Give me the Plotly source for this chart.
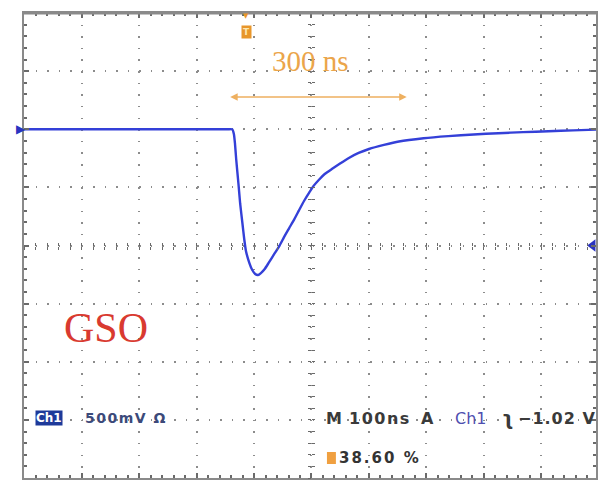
import plotly.graph_objects as go

# ---- data (time in ns, amplitude in V; 100 ns/div, 500 mV/div) ----
time_ns = [0, 60, 120, 180, 240, 300, 340, 355, 362, 365, 367, 369, 373, 376,
           380, 383, 386, 392, 397, 402, 407, 412, 419, 426, 435, 444, 452,
           461, 470, 478, 487, 496, 504, 513, 523, 536, 549, 565, 582, 600,
           626, 652, 695, 738, 782, 825, 868, 912, 955, 995]
volts = [1.0, 1.0, 1.0, 1.0, 1.0, 1.0, 1.0, 1.0, 1.0, 0.96, 0.873, 0.744,
         0.529, 0.357, 0.185, 0.056, -0.047, -0.151, -0.211, -0.245, -0.254,
         -0.237, -0.20, -0.145, -0.075, -0.005, 0.07, 0.148, 0.225, 0.30,
         0.383, 0.455, 0.515, 0.566, 0.615, 0.660, 0.703, 0.753, 0.796, 0.830,
         0.865, 0.895, 0.923, 0.941, 0.955, 0.966, 0.975, 0.983, 0.99, 0.997]

trigger_marker_level = [0.0]
trigger_marker_time = [989]

T_RANGE = [0, 994.8]
V_RANGE = [-2, 2]
W, H = 598, 481
L, R, T, B = 24, 0, 13, 3
PW, PH = W - L - R, H - T - B


def px(x):
    return (x - L) / PW


def py(y):
    return (H - B - y) / PH


trace_blue = "#3440d8"
grid_col = "#8c8c8c"
tick_col = "#6a6a6a"
orange = "#eba54a"

fig = go.Figure()
fig.add_trace(go.Scatter(x=time_ns, y=volts, mode="lines",
                         line=dict(color=trace_blue, width=2.4, shape="spline", smoothing=0.5),
                         hoverinfo="skip", showlegend=False))
fig.add_trace(go.Scatter(x=trigger_marker_time, y=trigger_marker_level, mode="markers",
                         marker=dict(symbol="triangle-left", size=11, color="#2a34c0"),
                         cliponaxis=False, showlegend=False, hoverinfo="skip"))
# empty traces so the centre graticule axes are attached to subplots
fig.add_trace(go.Scatter(x=[], y=[], xaxis="x2", yaxis="y", showlegend=False))
fig.add_trace(go.Scatter(x=[], y=[], xaxis="x3", yaxis="y", showlegend=False))
fig.add_trace(go.Scatter(x=[], y=[], xaxis="x", yaxis="y2", showlegend=False))
fig.add_trace(go.Scatter(x=[], y=[], xaxis="x", yaxis="y3", showlegend=False))

common = dict(showticklabels=False, zeroline=False, fixedrange=True)

fig.update_layout(
    width=W, height=H,
    margin=dict(l=L, r=R, t=T, b=B),
    paper_bgcolor="white", plot_bgcolor="white",
    showlegend=False,
    xaxis=dict(range=T_RANGE, tick0=0, dtick=100, showgrid=True,
               gridcolor=grid_col, gridwidth=2, griddash="1.5px,10.12px",
               showline=True, linecolor="#8a8a8a", linewidth=2, mirror="ticks",
               ticks="inside", ticklen=5, tickcolor=tick_col, tickwidth=1.5,
               minor=dict(dtick=20, ticks="inside", ticklen=3, tickcolor=tick_col,
                          showgrid=False),
               **common),
    yaxis=dict(range=V_RANGE, tick0=0, dtick=0.5, showgrid=True,
               gridcolor=grid_col, gridwidth=2, griddash="1.5px,10.04px",
               showline=True, linecolor="#8a8a8a", linewidth=2, mirror="ticks",
               ticks="inside", ticklen=5, tickcolor=tick_col, tickwidth=1.5,
               minor=dict(dtick=0.1, ticks="inside", ticklen=3, tickcolor=tick_col,
                          showgrid=False),
               **common),
    xaxis2=dict(range=T_RANGE, overlaying="x", anchor="free", position=0.5,
                tick0=0, dtick=20, ticks="outside", ticklen=3, tickcolor=tick_col,
                showgrid=False, showline=False, **common),
    xaxis3=dict(range=T_RANGE, overlaying="x", anchor="free", position=0.5,
                tick0=0, dtick=20, ticks="inside", ticklen=3, tickcolor=tick_col,
                showgrid=False, showline=False, **common),
    yaxis2=dict(range=V_RANGE, overlaying="y", anchor="free",
                position=500 / T_RANGE[1],
                tick0=0, dtick=0.1, ticks="outside", ticklen=3, tickcolor=tick_col,
                showgrid=False, showline=False, **common),
    yaxis3=dict(range=V_RANGE, overlaying="y", anchor="free",
                position=500 / T_RANGE[1],
                tick0=0, dtick=0.1, ticks="inside", ticklen=3, tickcolor=tick_col,
                showgrid=False, showline=False, **common),
)


def note(xp, yp, text, size, color, family="DejaVu Sans", xanchor="center",
         yanchor="middle", **kw):
    return dict(xref="paper", yref="paper", x=px(xp), y=py(yp), text=text,
                xanchor=xanchor, yanchor=yanchor, showarrow=False,
                font=dict(family=family, size=size, color=color), **kw)


ann = []
# 300 ns label and double arrow
ann.append(note(312, 61, "300 ns", 29, orange, family="Liberation Serif"))
ann.append(dict(xref="paper", yref="paper", x=px(408), y=py(97), text="",
                showarrow=True, ax=-(408 - 230), ay=0, arrowside="end+start",
                arrowhead=2, arrowsize=1, arrowwidth=1.5, arrowcolor="#eeb060",
                standoff=0, startstandoff=0))
# trigger position icon
ann.append(note(247, 32, "<b>T</b>", 9, "#fde7b0", bgcolor="#e8962a", borderpad=1))
ann.append(note(247, 16, "▼", 7, "#e8962a"))
# channel ground marker
ann.append(note(21, 129, "▶", 12, "#2a34c0"))
# GSO
ann.append(note(106, 328, "GSO", 42, "#d93a30", family="Liberation Serif"))
# Ch1 settings
ann.append(note(49, 418, "<b>Ch1</b>", 12, "white", bgcolor="#1e3a9a", borderpad=0))
ann.append(note(83, 418, "<span style='letter-spacing:1.5px'><b>500mV Ω</b></span>",
                14, "#3c4a7a", xanchor="left"))
# timebase / trigger settings
ann.append(note(325, 418, "<b>M</b>", 16, "#3a3a3a", xanchor="left"))
ann.append(note(348, 418, "<span style='letter-spacing:1.5px'><b>100ns</b></span>",
                16, "#3a3a3a", xanchor="left"))
ann.append(note(420, 418, "<b>A</b>", 16, "#3a3a3a", xanchor="left"))
ann.append(note(454, 418, "Ch1", 16, "#4f4fb0", xanchor="left"))
ann.append(note(510, 418, "<b>ʅ</b>", 19, "#3a3a3a"))
ann.append(note(600, 418, "<span style='letter-spacing:1px'><b>−1.02 V</b></span>",
                16, "#3a3a3a", xanchor="right"))
ann.append(note(338, 458, "<span style='letter-spacing:2px'><b>38.60 %</b></span>",
                15, "#333333", xanchor="left"))
fig.update_layout(annotations=ann)

fig.add_shape(type="rect", xref="paper", yref="paper",
              x0=px(328), x1=px(337), y0=py(464), y1=py(452),
              fillcolor="#f0a040", line=dict(width=0))
# thicker top border
fig.add_shape(type="line", xref="paper", yref="paper", x0=0, x1=1, y0=1, y1=1,
              line=dict(color="#8a8a8a", width=3))

fig.write_html("out.html")
